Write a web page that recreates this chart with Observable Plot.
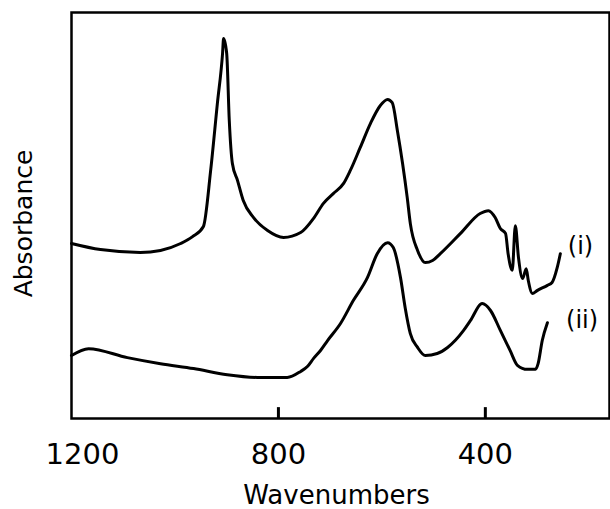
<!DOCTYPE html>
<html>
<head>
<meta charset="utf-8">
<script src="https://cdn.jsdelivr.net/npm/d3@7"></script>
<script src="https://cdn.jsdelivr.net/npm/@observablehq/plot@0.6"></script>
<style>
  html, body { margin: 0; padding: 0; background: #fff; }
</style>
</head>
<body>
<div id="chart"></div>
<script>
// Spectrum (i): wavenumber (cm-1) and absorbance (arbitrary units)
const wn1 = [1200,1144,1067,1028,989,966,945,931,918,908,906,900,895,889,879,868,848,821,790,757,732,713,694,674,661,642,622,603,589,580,570,560,551,545,531,516,502,487,448,410,394,381,371,361,356,348,342,336,328,321,317,309,300,280,271,261,255];
const abs1 = [43.1,41.6,40.9,41.4,43.1,44.8,47.3,61.1,77.6,89.9,93.6,89.9,73.4,62.8,58.6,53.7,49.5,46.3,44.6,45.8,49.3,53.0,55.4,57.9,61.1,66.7,72.7,77.1,78.6,77.8,70.9,62.8,54.4,48.0,41.4,38.4,38.9,40.6,45.6,50.5,51.2,49.5,46.8,45.6,40.6,36.5,47.5,39.7,34.5,36.9,34.0,30.8,31.5,32.8,33.5,37.2,40.6];

// Spectrum (ii)
const wn2 = [1200,1167,1092,1028,964,899,835,783,757,744,732,719,705,680,655,628,609,589,578,564,555,545,531,516,493,473,442,429,406,390,371,352,338,319,303,298,290,280];
const abs2 = [15.5,17.2,15.0,13.5,12.3,10.8,10.1,10.1,11.6,12.8,14.8,16.7,19.2,23.4,29.1,34.7,40.6,43.3,42.1,34.7,27.3,20.9,17.5,15.5,16.0,17.5,21.7,24.1,28.3,26.6,21.7,16.7,13.1,12.1,12.1,13.5,19.2,23.6];

// Curve labels
const curveNames = ["(i)", "(ii)"];
const labelWn = [216, 213];
const labelAbs = [42.4, 24.1];

// Axis ticks
const tickValues = [800, 400];
const firstTick = [1200];

const s1 = wn1.map((w, i) => ({wn: w, a: abs1[i]}));
const s2 = wn2.map((w, i) => ({wn: w, a: abs2[i]}));
const labels = curveNames.map((t, i) => ({t, wn: labelWn[i], a: labelAbs[i]}));
const tickRows = tickValues.map(v => ({v}));

const chart = Plot.plot({
  width: 610,
  height: 509,
  marginLeft: 71,
  marginTop: 12,
  marginRight: 1,
  marginBottom: 91,
  style: {fontFamily: "DejaVu Sans", color: "#000", background: "#fff"},
  x: {domain: [1200, 160], axis: null},
  y: {domain: [0, 100], axis: null},
  marks: [
    Plot.frame({stroke: "#000", strokeWidth: 2.5}),
    // inward tick marks (from the baseline up a short way)
    Plot.link(tickRows, {x1: "v", x2: "v", y1: () => 0, y2: () => 2.8, stroke: "#000", strokeWidth: 3}),
    // tick labels
    Plot.axisX(tickValues, {tickSize: 0, tickPadding: 25, fontSize: 29, label: null, tickFormat: d => String(d)}),
    Plot.axisX(firstTick, {tickSize: 0, tickPadding: 25, fontSize: 29, dx: 11, label: null, tickFormat: d => String(d)}),
    Plot.line(s1, {x: "wn", y: "a", stroke: "#000", strokeWidth: 3, curve: "monotone-x"}),
    Plot.line(s2, {x: "wn", y: "a", stroke: "#000", strokeWidth: 3, curve: "monotone-x"}),
    Plot.text(labels, {x: "wn", y: "a", text: "t", fontSize: 24, fill: "#000"}),
    Plot.text(["Wavenumbers"], {frameAnchor: "bottom", textAnchor: "middle", dy: 85, dx: -4, fontSize: 26, fill: "#000"}),
    Plot.text(["Absorbance"], {frameAnchor: "left", textAnchor: "middle", lineAnchor: "middle", rotate: -90, dx: -48, dy: 8, fontSize: 25, fill: "#000"})
  ]
});
document.getElementById("chart").append(chart);
</script>
</body>
</html>
